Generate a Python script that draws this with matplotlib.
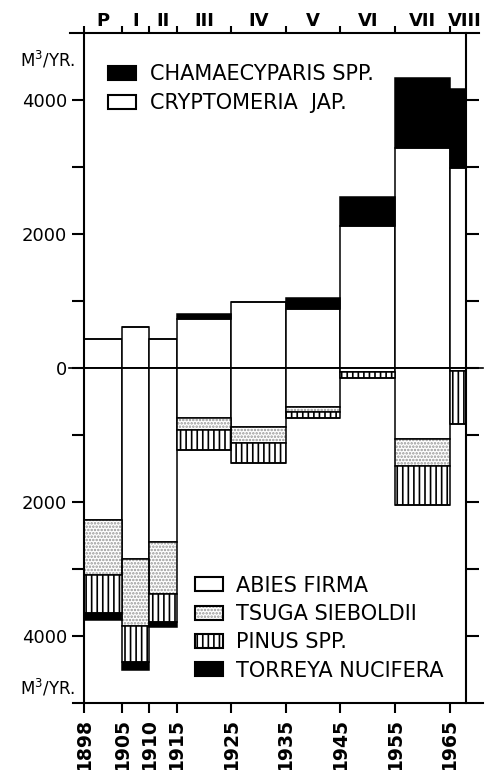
import numpy as np
import matplotlib
matplotlib.use('Agg')
import matplotlib.pyplot as plt
from matplotlib.patches import Patch

# periods (cutting periods P, I..VIII) and their year spans
periods = ['P', 'I', 'II', 'III', 'IV', 'V', 'VI', 'VII', 'VIII']
starts = [1898, 1905, 1910, 1915, 1925, 1935, 1945, 1955, 1965]
ends = [1905, 1910, 1915, 1925, 1935, 1945, 1955, 1965, 1968]

# above zero (m3/yr)
cryptomeria = [430, 620, 430, 730, 985, 880, 2120, 3290, 2990]
chamaecyparis = [0, 0, 0, 75, 0, 165, 440, 1040, 1180]
# below zero (m3/yr, drawn downwards)
abies = [2270, 2850, 2600, 750, 880, 580, 60, 1060, 50]
tsuga = [820, 1000, 770, 175, 240, 75, 0, 400, 0]
pinus = [570, 540, 420, 300, 300, 90, 90, 580, 780]
torreya = [100, 120, 80, 0, 0, 0, 0, 0, 0]

ytick_vals = [-4000, -3000, -2000, -1000, 0, 1000, 2000, 3000, 4000]
ytick_text = ['4000', '', '2000', '', '0', '', '2000', '', '4000']

plt.rcParams.update({
    'font.family': 'DejaVu Sans',
    'hatch.linewidth': 1.2,
    'axes.linewidth': 1.5,
})

STIPPLE = '#959595'

fig = plt.figure(figsize=(4.86, 7.70), dpi=100)
ax = fig.add_axes([0.1728, 0.087, 0.786, 0.870])

x = np.array(starts, dtype=float)
w = np.array(ends) - x


def stack(vals, base, sign, face, hatch=None, hatch_color='black'):
    h = sign * np.array(vals, dtype=float)
    if hatch:
        # hatch layer first (own colour), then black outline on top
        ax.bar(x, h, width=w, bottom=base, align='edge', facecolor=face,
               edgecolor=hatch_color, linewidth=0, hatch=hatch)
        ax.bar(x, h, width=w, bottom=base, align='edge', facecolor='none',
               edgecolor='black', linewidth=1.1)
    else:
        ax.bar(x, h, width=w, bottom=base, align='edge', facecolor=face,
               edgecolor='black', linewidth=1.1)
    return base + h


# --- upper stack ---
base = np.zeros(len(x))
base = stack(cryptomeria, base, 1, 'white')
base = stack(chamaecyparis, base, 1, 'black')

# --- lower stack ---
base = np.zeros(len(x))
base = stack(abies, base, -1, 'white')
base = stack(tsuga, base, -1, 'white', hatch='.....', hatch_color=STIPPLE)
base = stack(pinus, base, -1, 'white', hatch='|||')
base = stack(torreya, base, -1, 'black')

# zero line, runs past both spines
ax.plot([-0.04, 1.045], [0, 0], color='black', lw=1.2,
        transform=ax.get_yaxis_transform(), clip_on=False, zorder=3)

ax.set_xlim(1898, 1968)
ax.set_ylim(-5000, 5000)

# horizontal frame lines drawn by hand so they overhang the sides
ax.spines['top'].set_visible(False)
ax.spines['bottom'].set_visible(False)
ax.plot([-0.037, 1.035], [1, 1], color='black', lw=1.5,
        transform=ax.transAxes, clip_on=False)
ax.plot([-0.03, 1.045], [0, 0], color='black', lw=1.5,
        transform=ax.transAxes, clip_on=False)

ax.set_yticks(ytick_vals, labels=ytick_text)
ax.tick_params(axis='y', which='both', direction='out', length=9, width=1.5,
               labelsize=13, right=True, labelright=False, pad=3)

ax.set_xticks(starts, labels=[str(s) for s in starts])
ax.tick_params(axis='x', direction='out', length=7, width=1.5,
               labelsize=13.5, labelrotation=90, pad=4)
for lbl in ax.get_xticklabels():
    lbl.set_fontweight('bold')

# top: period ticks and roman labels
secax = ax.secondary_xaxis('top')
secax.spines['top'].set_visible(False)
secax.set_xticks(starts, labels=[''] * len(starts))
secax.tick_params(which='major', direction='out', length=5, width=1.5)

mids = (np.array(starts) + np.array(ends)) / 2.0
mids[-1] += 1.3
for m, p in zip(mids, periods):
    ax.text(m, 1.011, p, transform=ax.get_xaxis_transform(), ha='center',
            va='baseline', fontsize=13, fontweight='bold', clip_on=False)

# unit labels
ax.text(-0.168, 0.96, 'M$^3$/YR.', transform=ax.transAxes, ha='left',
        va='center', fontsize=12, clip_on=False)
ax.text(-0.168, 0.022, 'M$^3$/YR.', transform=ax.transAxes, ha='left',
        va='center', fontsize=12, clip_on=False)

# legends
up_handles = [
    Patch(facecolor='black', edgecolor='black', linewidth=1.5),
    Patch(facecolor='white', edgecolor='black', linewidth=1.5),
]
leg1 = ax.legend(up_handles, ['CHAMAECYPARIS SPP.', 'CRYPTOMERIA  JAP.'],
                 loc='upper left', bbox_to_anchor=(0.063, 0.954),
                 frameon=False, fontsize=15, handlelength=1.35, handleheight=0.65,
                 handletextpad=0.65, labelspacing=0.45, borderpad=0, borderaxespad=0)
ax.add_artist(leg1)

tsuga_handle = (Patch(facecolor='white', edgecolor=STIPPLE, linewidth=0, hatch='.....'),
                Patch(facecolor='none', edgecolor='black', linewidth=1.5))
pinus_handle = (Patch(facecolor='white', edgecolor='black', linewidth=0, hatch='|||'),
                Patch(facecolor='none', edgecolor='black', linewidth=1.5))
low_handles = [
    Patch(facecolor='white', edgecolor='black', linewidth=1.5),
    tsuga_handle,
    pinus_handle,
    Patch(facecolor='black', edgecolor='black', linewidth=1.5),
]
ax.legend(low_handles, ['ABIES FIRMA', 'TSUGA SIEBOLDII', 'PINUS SPP.', 'TORREYA NUCIFERA'],
          loc='upper left', bbox_to_anchor=(0.29, 0.19),
          frameon=False, fontsize=15, handlelength=1.35, handleheight=0.65,
          handletextpad=0.65, labelspacing=0.4, borderpad=0, borderaxespad=0)

fig.savefig('out.png', dpi=100)
